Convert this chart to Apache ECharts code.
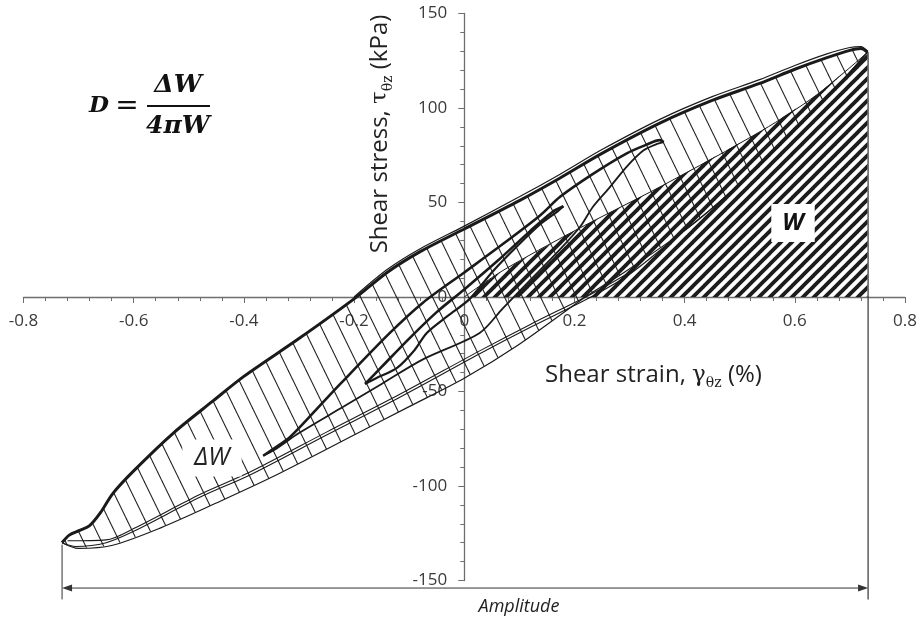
<!DOCTYPE html>
<html><head><meta charset="utf-8">
<script src="https://cdn.jsdelivr.net/npm/echarts@6/dist/echarts.min.js"></script>
<style>html,body{margin:0;padding:0;background:#fff}#c{width:920px;height:620px}</style>
</head><body><div id="c"></div>
<script>
// ---- data (strain %, stress kPa) ----
const xRange = [-0.8, 0.8];
const yRange = [-150, 150];
// large loop, upper (thick) branch
const bigUpper = [[-0.73,-130],[-0.717,-126],[-0.698,-123.5],[-0.68,-121],[-0.66,-114],[-0.638,-104],[-0.6,-92],[-0.528,-72],[-0.456,-55],[-0.4,-42],[-0.3,-22],[-0.2,-1],[-0.14,13],[-0.08,24],[0,36],[0.1,51],[0.174,63],[0.25,76],[0.355,92],[0.45,104],[0.536,113],[0.6,120.5],[0.657,126.5],[0.7,130.5],[0.72,131.5],[0.732,129.5]];
// second cycle, upper branch (thin)
const bigUpper2 = [[-0.2,0],[-0.14,14.5],[-0.08,25.5],[0,37.5],[0.1,53],[0.174,65],[0.25,78],[0.355,94],[0.45,106],[0.536,115],[0.6,122.5],[0.657,128.5],[0.7,132],[0.72,132.5],[0.732,130]];
// large loop, lower branches
const bigLowerA = [[-0.73,-130],[-0.705,-132],[-0.65,-130],[-0.6,-124],[-0.48,-106],[-0.388,-94],[-0.25,-73],[-0.117,-53],[0.028,-30],[0.12,-16],[0.23,0],[0.3,12],[0.39,33],[0.45,47],[0.53,68],[0.6,88],[0.66,106],[0.7,119],[0.732,129.5]];
const bigLowerB = [[-0.72,-129],[-0.65,-128.5],[-0.6,-122.5],[-0.48,-104.5],[-0.388,-92.5],[-0.25,-71.5],[-0.117,-51.5],[0.028,-28.5],[0.12,-14.5],[0.23,1.5],[0.3,13]];
const bigLowerOuter = [[-0.73,-130],[-0.70,-133],[-0.64,-131.5],[-0.55,-122],[-0.45,-109],[-0.347,-95],[-0.2,-73],[-0.1,-58],[0,-43],[0.1,-25],[0.22,0],[0.29,13],[0.39,33],[0.45,47],[0.53,68],[0.6,88],[0.66,106],[0.7,119],[0.732,129.5]];
// curve bounding the W area
const wCurve = [[0,0],[0.07,14],[0.2,35],[0.36,59],[0.54,88],[0.64,107],[0.732,129.5]];
const wBase = [[0.732,0],[0,0]];
// medium loop
const midUpper = [[-0.365,-84],[-0.345,-80],[-0.316,-74],[-0.27,-60],[-0.225,-46],[-0.135,-19],[-0.075,-3],[0,13],[0.07,28],[0.137,43],[0.174,53],[0.233,65],[0.295,76],[0.33,80.5],[0.355,83],[0.362,82]];
const midLower = [[0.362,82],[0.35,81],[0.325,77.5],[0.295,69],[0.264,58],[0.233,47.5],[0.21,37],[0.17,24],[0.12,9],[0.07,-6],[0.028,-19],[-0.075,-33],[-0.15,-46],[-0.225,-59],[-0.3,-72],[-0.345,-81],[-0.365,-84]];
// small loop
const smallUp = [[-0.18,-46],[-0.15,-37],[-0.1,-22],[-0.05,-8],[0,4],[0.06,19],[0.12,35],[0.16,45],[0.18,48]];
const smallDown = [[0.18,48],[0.17,45.5],[0.14,39],[0.1,28],[0.05,13],[0.01,-1],[-0.03,-10],[-0.068,-19],[-0.09,-28],[-0.122,-37.5],[-0.16,-43],[-0.18,-46]];
// amplitude annotation
const ampLeft = [[-0.73,-131],[-0.73,-160]];
const ampRight = [[0.733,129.5],[0.733,-160]];
const ampArrow = [[-0.73,-154],[0.733,-154]];

// ---- hatch patterns ----
function diagPattern(){
  const cv=document.createElement('canvas'); cv.width=11; cv.height=11;
  const c=cv.getContext('2d'); c.strokeStyle='#1c1c1c'; c.lineWidth=3.8;
  for(const o of [-11,0,11]){c.beginPath();c.moveTo(o-2,13);c.lineTo(o+13,-2);c.stroke();}
  return cv;
}
function slantPattern(){
  const cv=document.createElement('canvas'); cv.width=18; cv.height=37;
  const c=cv.getContext('2d'); c.strokeStyle='#222'; c.lineWidth=1.1;
  for(const o of [-18,0,18]){c.beginPath();c.moveTo(o-1,-2.05);c.lineTo(o+19,39);c.stroke();}
  return cv;
}
const diagImg = diagPattern(), slantImg = slantPattern();

const ink = '#1a1a1a';
function line(data, w, extra){
  return Object.assign({type:'line', data, showSymbol:false, symbol:'none', smooth:0.3, silent:true,
    lineStyle:{color:ink, width:w}, z:3}, extra||{});
}
function polySeries(points, img, z){
  return {type:'custom', silent:true, z, data:[[0,0]],
    renderItem:(p,api)=>({type:'polygon', shape:{points:points.map(q=>api.coord(q))},
      style:{fill:{image:img, repeat:'repeat'}, stroke:null}})};
}

const chart = echarts.init(document.getElementById('c'), null, {renderer:'canvas'});
const axisCol = '#6e6e6e';
const lblFont = {fontFamily:'Open Sans', fontSize:17, color:'#3a3a3a'};
const G = {left:23.5, right:15, top:13.5, bottom:39.5};
const gw = 920 - G.left - G.right, gh = 620 - G.top - G.bottom;
chart.setOption({
  animation:false,
  backgroundColor:'#fff',
  grid:Object.assign({containLabel:false, outerBoundsMode:'none'}, G),
  xAxis:{type:'value', min:xRange[0], max:xRange[1], interval:0.2, position:'bottom',
    offset:-gh * (0 - yRange[0]) / (yRange[1] - yRange[0]),
    axisLine:{onZero:false, lineStyle:{color:axisCol, width:1.3}},
    axisTick:{length:6, lineStyle:{color:axisCol}},
    minorTick:{show:true, splitNumber:5, length:4, lineStyle:{color:axisCol}},
    splitLine:{show:false},
    axisLabel:Object.assign({margin:16, formatter:v=>{const r=Math.round(v*10)/10;return r===0?'0':String(r);}}, lblFont)},
  yAxis:{type:'value', min:yRange[0], max:yRange[1], interval:50, position:'left',
    offset:-gw * (0 - xRange[0]) / (xRange[1] - xRange[0]),
    axisLine:{onZero:false, lineStyle:{color:axisCol, width:1.3}},
    axisTick:{length:6, lineStyle:{color:axisCol}},
    minorTick:{show:true, splitNumber:5, length:4, lineStyle:{color:axisCol}},
    splitLine:{show:false},
    axisLabel:Object.assign({margin:17}, lblFont)},
  series:[
    polySeries(bigUpper.concat(bigLowerOuter.slice().reverse()), slantImg, 1),
    polySeries(wCurve.concat(wBase), diagImg, 2),
    line(wCurve, 1),
    line(bigLowerOuter, 1.2),
    line(bigLowerA, 1.1),
    line(bigLowerB, 1.1),
    line(bigUpper, 3),
    line(bigUpper2, 1.2),
    line(midUpper, 2.6),
    line(midLower, 1.8),
    line(smallUp, 2.6),
    line(smallDown, 2.2),
    line(ampLeft, 1, {smooth:false, clip:false, lineStyle:{color:'#333', width:1}}),
    line(ampRight, 1.2, {smooth:false, clip:false, lineStyle:{color:'#333', width:1.2}}),
    {type:'custom', silent:true, clip:false, z:4, data:[[0,0]],
      renderItem:(p,api)=>{
        const a=api.coord(ampArrow[0]), b=api.coord(ampArrow[1]);
        const L=10, H=3.5;
        return {type:'group', children:[
          {type:'line', shape:{x1:a[0]+L,y1:a[1],x2:b[0]-L,y2:b[1]}, style:{stroke:'#333', lineWidth:1}},
          {type:'polygon', shape:{points:[[a[0],a[1]],[a[0]+L,a[1]-H],[a[0]+L,a[1]+H]]}, style:{fill:'#333'}},
          {type:'polygon', shape:{points:[[b[0],b[1]],[b[0]-L,b[1]-H],[b[0]-L,b[1]+H]]}, style:{fill:'#333'}}
        ]};
      }}
  ],
  graphic:[
    {type:'text', x:380, y:134, rotation:Math.PI/2, z:10, style:{
      text:'{a|Shear stress, }{g|τ}{s|θz}{a| (kPa)}', align:'center', verticalAlign:'middle',
      rich:{a:{fontFamily:'Open Sans', fontSize:24, lineHeight:30, fill:'#222'},
            g:{fontFamily:'DejaVu Serif', fontSize:23, lineHeight:30, fill:'#222'},
            s:{fontFamily:'DejaVu Serif', fontSize:14, lineHeight:16, verticalAlign:'bottom', fill:'#222'}}}},
    {type:'text', x:545, y:375, z:10, style:{
      text:'{a|Shear strain, }{g|γ}{s|θz}{a| (%)}', align:'left', verticalAlign:'middle',
      rich:{a:{fontFamily:'Open Sans', fontSize:24, lineHeight:30, fill:'#222'},
            g:{fontFamily:'DejaVu Serif', fontSize:23, lineHeight:30, fill:'#222'},
            s:{fontFamily:'DejaVu Serif', fontSize:14, lineHeight:16, verticalAlign:'bottom', fill:'#222'}}}},
    {type:'text', x:519, y:607, z:10, style:{text:'Amplitude', align:'center', verticalAlign:'middle',
      font:'italic 18px "Open Sans"', fill:'#222'}},
    {type:'text', x:212, y:458, z:10, style:{text:'ΔW', align:'center', verticalAlign:'middle',
      font:'italic 25px "Open Sans"', fill:'#222', backgroundColor:'#fff', padding:[6,12]}},
    {type:'text', x:793, y:223, z:10, style:{text:'W', align:'center', verticalAlign:'middle',
      font:'italic bold 24px "Open Sans"', fill:'#111', backgroundColor:'#fff', padding:[7,11]}},
    {type:'text', x:89, y:106, z:10, style:{text:'D', align:'left', verticalAlign:'middle',
      font:'italic bold 23px "DejaVu Serif"', fill:'#111'}},
    {type:'text', x:127, y:107, z:10, style:{text:'=', align:'center', verticalAlign:'middle',
      font:'28px "DejaVu Serif"', fill:'#111'}},
    {type:'text', x:178, y:85, z:10, style:{text:'ΔW', align:'center', verticalAlign:'middle',
      font:'italic bold 25px "DejaVu Serif"', fill:'#111'}},
    {type:'line', z:10, shape:{x1:147,y1:106,x2:210,y2:106}, style:{stroke:'#111', lineWidth:2}},
    {type:'text', x:178, y:126, z:10, style:{text:'4πW', align:'center', verticalAlign:'middle',
      font:'italic bold 25px "DejaVu Serif"', fill:'#111'}}
  ]
});
</script></body></html>
